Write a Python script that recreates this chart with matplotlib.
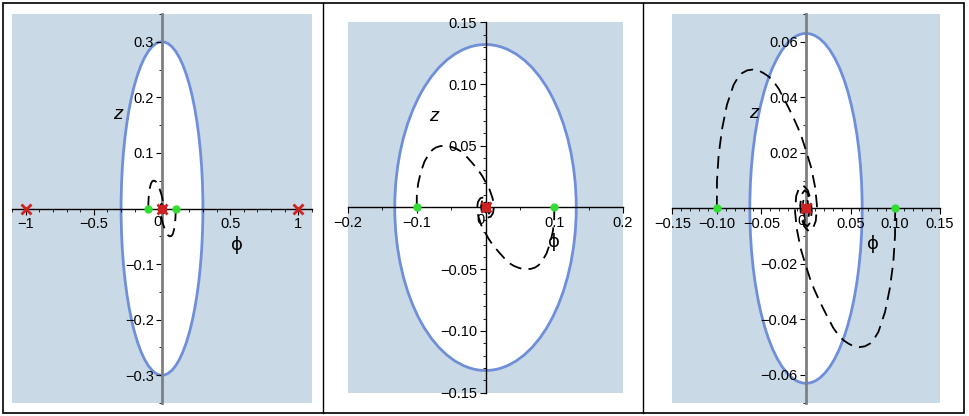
import matplotlib
matplotlib.use("Agg")
import matplotlib.pyplot as plt
from matplotlib.patches import Circle, Rectangle
from matplotlib.ticker import FixedLocator, MultipleLocator, NullFormatter

# trajectory that starts at the green point (-0.1, 0) and spirals into the origin
traj_phi = [-0.100, -0.0999, -0.098, -0.094, -0.0887, -0.0812, -0.0765, -0.0718,
            -0.0660, -0.0595, -0.0535, -0.0476, -0.0420, -0.0364, -0.0305, -0.0251,
            -0.0195, -0.0139, -0.0090, -0.0045, 0.0003, 0.006, 0.0104,
            0.0123, 0.0110, 0.0075, 0.0030, -0.0020, -0.0055, -0.0065, -0.0050,
            -0.0015, 0.0020, 0.0040, 0.0040, 0.0025, 0.0000, -0.0020, -0.0025,
            -0.0015, 0.0000, 0.0012, 0.0010, 0.0, 0.0]
traj_z = [0.000, 0.0097, 0.0193, 0.0289, 0.0373, 0.0445, 0.0470, 0.0487,
          0.0497, 0.0500, 0.0497, 0.0487, 0.0475, 0.0457, 0.0430, 0.0397,
          0.0362, 0.0325, 0.0290, 0.0253, 0.0205, 0.0145, 0.0073,
          0.0010, -0.0045, -0.0075, -0.0082, -0.0065, -0.0030, 0.0010, 0.0050,
          0.0065, 0.0055, 0.0025, -0.0010, -0.0035, -0.0040, -0.0025, 0.0000,
          0.0020, 0.0022, 0.0010, -0.0008, -0.001, 0.0]

start_phi = [-0.1, 0.1]
start_z = [0.0, 0.0]

radii = [0.3, 0.132, 0.063]

xlims = [(-1.1, 1.1), (-0.2, 0.2), (-0.15, 0.15)]
ylims = [(-0.35, 0.35), (-0.15, 0.15), (-0.07, 0.07)]

xticks = [[-1, -0.5, 0, 0.5, 1],
          [-0.2, -0.1, 0, 0.1, 0.2],
          [-0.15, -0.10, -0.05, 0, 0.05, 0.10, 0.15]]
xticklabels = [["\u22121", "\u22120.5", "", "0.5", "1"],
               ["\u22120.2", "\u22120.1", "", "0.1", "0.2"],
               ["\u22120.15", "\u22120.10", "\u22120.05", "", "0.05", "0.10", "0.15"]]
yticks = [[-0.3, -0.2, -0.1, 0.1, 0.2, 0.3],
          [-0.15, -0.10, -0.05, 0.05, 0.10, 0.15],
          [-0.06, -0.04, -0.02, 0.02, 0.04, 0.06]]
yticklabels = [["\u22120.3", "\u22120.2", "\u22120.1", "0.1", "0.2", "0.3"],
               ["\u22120.15", "\u22120.10", "\u22120.05", "0.05", "0.10", "0.15"],
               ["\u22120.06", "\u22120.04", "\u22120.02", "0.02", "0.04", "0.06"]]
xminor = [0.1, 0.05, 0.01]
yminor = [0.05, 0.01, 0.01]

# extra fixed points (red crosses) on the phi axis
cross_phi = [[-1, 0, 1], [0], [0]]
cross_z = [[0, 0, 0], [0], [0]]

zlabel_pos = [(-0.32, 0.17), (-0.075, 0.074), (-0.058, 0.034)]
philabel_pos = [(0.55, -0.065), (0.1, -0.028), (0.075, -0.013)]

# layout in pixels: left, top, right, bottom of each shaded plot area
rects = [(12, 14, 312, 403), (348, 22.3, 623, 392.7), (672.3, 14, 939.7, 402.7)]
yaxis_colors = ["#7f7f7f", "black", "#7f7f7f"]
yaxis_widths = [2.0, 1.0, 2.0]

W, H = 969, 416
shade = "#c9d9e6"
ring = "#6f8fd8"
green = "#33dd33"
red = "#cc2222"

plt.rcParams['font.family'] = ['Liberation Sans', 'DejaVu Sans']

fig = plt.figure(figsize=(W / 100, H / 100), dpi=100)

# outer frame and separators
frame = fig.add_axes([0, 0, 1, 1])
frame.set_xlim(0, W)
frame.set_ylim(H, 0)
frame.axis("off")
frame.add_patch(Rectangle((3, 3), 961, 410, fill=False, ec="black", lw=1.2))
frame.plot([323, 323], [3, 413], color="black", lw=1.0)
frame.plot([643, 643], [3, 413], color="black", lw=1.0)

for i in range(3):
    l, t, r, b = rects[i]
    ax = fig.add_axes([l / W, 1 - b / H, (r - l) / W, (b - t) / H])
    ax.set_facecolor(shade)
    ax.set_xlim(*xlims[i])
    ax.set_ylim(*ylims[i])

    ax.add_patch(Circle((0, 0), radii[i], facecolor="white", edgecolor=ring,
                        lw=2.0, zorder=1))

    ax.plot(traj_phi, traj_z, color="black", lw=1.3, dashes=(7, 4), zorder=3)
    ax.plot([-p for p in traj_phi], [-z for z in traj_z], color="black", lw=1.3,
            dashes=(7, 4), zorder=3)

    ax.plot(start_phi, start_z, "o", color=green, ms=5, zorder=4)
    ax.plot([0], [0], "o", color=red, ms=6, zorder=4)
    ax.plot(cross_phi[i], cross_z[i], "x", color=red, ms=7, mew=2, zorder=5)

    for s in ["top", "right"]:
        ax.spines[s].set_visible(False)
    ax.spines["left"].set_position("zero")
    ax.spines["bottom"].set_position("zero")
    ax.spines["left"].set_color(yaxis_colors[i])
    ax.spines["left"].set_linewidth(yaxis_widths[i])
    ax.spines["bottom"].set_linewidth(1.0)
    ax.spines["left"].set_zorder(2)
    ax.spines["bottom"].set_zorder(2)

    ax.xaxis.set_major_locator(FixedLocator(xticks[i]))
    ax.set_xticklabels(xticklabels[i])
    ax.xaxis.set_minor_locator(MultipleLocator(xminor[i]))
    ax.yaxis.set_major_locator(FixedLocator(yticks[i]))
    ax.set_yticklabels(yticklabels[i])
    ax.yaxis.set_minor_locator(MultipleLocator(yminor[i]))
    ax.xaxis.set_minor_formatter(NullFormatter())
    ax.yaxis.set_minor_formatter(NullFormatter())
    ax.tick_params(which="major", direction="out", length=4, width=0.8,
                   labelsize=10.5, pad=2)
    ax.tick_params(which="minor", direction="out", length=2, width=0.6)

    # the origin label sits just left of the vertical axis
    ax.annotate("0", xy=(0, 0), xytext=(-5, -13), textcoords="offset pixels",
                fontsize=10.5, ha="center", va="center", zorder=6)

    ax.text(zlabel_pos[i][0], zlabel_pos[i][1], "z", fontsize=14,
            style="italic", family=["Liberation Sans", "DejaVu Sans"],
            ha="center", va="center")
    ax.text(philabel_pos[i][0], philabel_pos[i][1], "\u03d5", fontsize=13,
            family=["DejaVu Sans"], ha="center", va="center")

fig.savefig("out.png", dpi=100)
